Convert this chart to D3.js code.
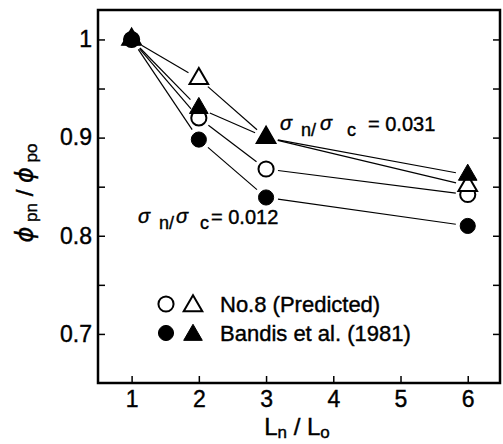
<!DOCTYPE html>
<html>
<head>
<meta charset="utf-8">
<script src="https://cdn.jsdelivr.net/npm/d3@7"></script>
<style>
  body { margin: 0; background: #fff; }
  text { font-family: "Liberation Sans", Arial, sans-serif; fill: #000; stroke: #000; stroke-width: 0.4px; }
  .tick text { font-size: 23px; }
  .phi { font-family: "DejaVu Sans", sans-serif; font-style: italic; }
</style>
</head>
<body>
<div id="chart"></div>
<script>
// data
var lengthRatio = [1, 2, 3, 6];
var predCircle  = [1.0, 0.92, 0.868, 0.842];   // No.8 predicted, sn/sc = 0.012
var bandisCircle = [1.0, 0.898, 0.839, 0.810]; // Bandis et al., sn/sc = 0.012
var predTri     = [1.0, 0.96, 0.90, 0.851];    // No.8 predicted, sn/sc = 0.031
var bandisTri   = [1.0, 0.93, 0.90, 0.862];    // Bandis et al., sn/sc = 0.031

var xTicks = [1, 2, 3, 4, 5, 6];
var yTicks = [0.7, 0.75, 0.8, 0.85, 0.9, 0.95, 1.0];
var yTickLabels = ["0.7", "", "0.8", "", "0.9", "", "1"];

var width = 503, height = 444;
var margin = {top: 10, right: 3, bottom: 61, left: 98};
var plotW = width - margin.left - margin.right,
    plotH = height - margin.top - margin.bottom;

var svg = d3.select("#chart").append("svg")
    .attr("width", width)
    .attr("height", height);

var g = svg.append("g").attr("transform", "translate(" + margin.left + "," + margin.top + ")");

var x = d3.scaleLinear().domain([0.5, 6.48]).range([0, plotW]);
var y = d3.scaleLinear().domain([0.65, 1.03]).range([plotH, 0]);

// axes, ticks pointing inward
g.append("g")
    .attr("transform", "translate(0," + plotH + ")")
    .call(d3.axisBottom(x).tickValues(xTicks).tickSize(-7).tickPadding(8).tickFormat(d3.format("d")));
g.append("g")
    .call(d3.axisLeft(y).tickValues(yTicks).tickSize(-7).tickPadding(6)
      .tickFormat(function(d, i) { return yTickLabels[i]; }));
g.append("g")
    .attr("transform", "translate(" + plotW + ",0)")
    .call(d3.axisRight(y).tickValues(yTicks).tickSize(-7).tickFormat(""));

g.selectAll(".domain").remove();
g.selectAll(".tick line").attr("stroke", "#000").attr("stroke-width", 1.5);

g.append("rect")
    .attr("width", plotW)
    .attr("height", plotH)
    .attr("fill", "none")
    .attr("stroke", "#000")
    .attr("stroke-width", 2.5);

// connecting lines, stopped short of the markers
var gap = 12;
function drawLine(vals) {
  for (var i = 0; i < vals.length - 1; i++) {
    var x1 = x(lengthRatio[i]), y1 = y(vals[i]),
        x2 = x(lengthRatio[i + 1]), y2 = y(vals[i + 1]);
    var len = Math.sqrt((x2 - x1) * (x2 - x1) + (y2 - y1) * (y2 - y1)),
        ux = (x2 - x1) / len, uy = (y2 - y1) / len;
    g.append("line")
      .attr("x1", x1 + ux * gap).attr("y1", y1 + uy * gap)
      .attr("x2", x2 - ux * gap).attr("y2", y2 - uy * gap)
      .attr("stroke", "#000")
      .attr("stroke-width", 1.2);
  }
}
[predCircle, bandisCircle, predTri, bandisTri].forEach(drawLine);

var circlePath = d3.symbol().type(d3.symbolCircle).size(180);
var triPath = d3.symbol().type(d3.symbolTriangle).size(150);

function drawMarkers(vals, path, filled) {
  g.selectAll(null)
    .data(vals)
    .enter().append("path")
    .attr("d", path)
    .attr("transform", function(d, i) { return "translate(" + x(lengthRatio[i]) + "," + y(d) + ")"; })
    .attr("fill", filled ? "#000" : "#fff")
    .attr("stroke", "#000")
    .attr("stroke-width", filled ? 1 : 2);
}
drawMarkers(predCircle, circlePath, false);
drawMarkers(bandisCircle, circlePath, true);
drawMarkers(predTri, triPath, false);
drawMarkers(bandisTri, triPath, true);

// sigma_n / sigma_c annotations
function ratioLabel(x0, y0, value, s2x, cx, eqx) {
  var t = svg.append("text").attr("y", y0);
  t.append("tspan").attr("x", x0).attr("font-size", 20).attr("font-style", "italic").text("σ");
  t.append("tspan").attr("x", x0 + 21).attr("dy", 6).attr("font-size", 18).text("n/");
  t.append("tspan").attr("x", x0 + s2x).attr("dy", -6).attr("font-size", 20).attr("font-style", "italic").text("σ");
  t.append("tspan").attr("x", x0 + cx).attr("dy", 6).attr("font-size", 18).text("c");
  t.append("tspan").attr("x", x0 + eqx).attr("dy", -5).attr("font-size", 20).text("= " + value);
}
ratioLabel(280, 130, "0.031", 40, 67, 88);
ratioLabel(138, 223, "0.012", 38, 62, 73);

// legend
var legend = svg.append("g");
var legendRows = [
  {y: 304, filled: false, label: "No.8 (Predicted)"},
  {y: 333, filled: true, label: "Bandis et al. (1981)"}
];
legendRows.forEach(function(r) {
  legend.append("path").attr("d", circlePath)
    .attr("transform", "translate(166," + r.y + ")")
    .attr("fill", r.filled ? "#000" : "#fff").attr("stroke", "#000").attr("stroke-width", r.filled ? 1 : 2);
  legend.append("path").attr("d", triPath)
    .attr("transform", "translate(193," + (r.y + 2) + ")")
    .attr("fill", r.filled ? "#000" : "#fff").attr("stroke", "#000").attr("stroke-width", r.filled ? 1 : 2);
  legend.append("text")
    .attr("x", 220).attr("y", r.y + 8)
    .attr("font-size", 22)
    .text(r.label);
});

// axis titles
var xt = svg.append("text")
    .attr("x", 297).attr("y", 435)
    .attr("text-anchor", "middle")
    .attr("font-size", 24);
xt.append("tspan").text("L");
xt.append("tspan").attr("font-size", 17).attr("dy", 3).text("n");
xt.append("tspan").attr("dy", -3).text(" / L");
xt.append("tspan").attr("font-size", 17).attr("dy", 3).text("o");

var yt = svg.append("text")
    .attr("transform", "translate(33,193) rotate(-90)")
    .attr("text-anchor", "middle")
    .attr("font-size", 24);
yt.append("tspan").attr("class", "phi").text("ϕ");
yt.append("tspan").attr("font-size", 17).attr("dy", 4).text(" pn");
yt.append("tspan").attr("dy", -4).text(" / ");
yt.append("tspan").attr("class", "phi").text("ϕ");
yt.append("tspan").attr("font-size", 17).attr("dy", 4).text(" po");
</script>
</body>
</html>
